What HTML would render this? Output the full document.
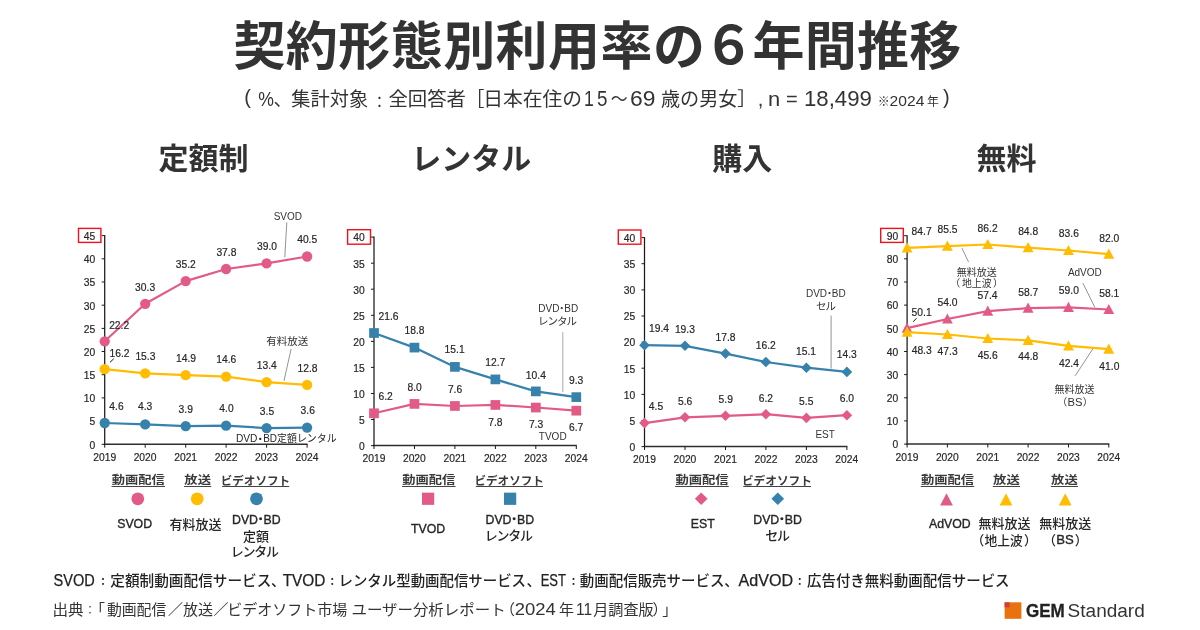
<!DOCTYPE html>
<html lang="ja"><head><meta charset="utf-8"><title>契約形態別利用率の６年間推移</title>
<style>html,body{margin:0;padding:0;background:#fff;}body{width:1200px;height:630px;overflow:hidden;}svg{display:block;font-family:"Liberation Sans", "Noto Sans CJK JP", sans-serif;fill:#262626;}.c text{stroke:#262626;stroke-width:.2px;}.c text.n,.c .n{stroke:none;}</style></head><body>
<svg width="1200" height="630" viewBox="0 0 1200 630">
<rect width="1200" height="630" fill="#fff"/>
<g id="title" fill="#333">
<text><tspan x="233.39" y="64.69" font-size="52" textLength="471.56" lengthAdjust="spacing" font-weight="700" fill="#333">契約形態別利用率の</tspan><tspan x="702.88" y="64.39" font-size="52" textLength="51.73" lengthAdjust="spacingAndGlyphs" font-weight="700" fill="#333">６</tspan><tspan x="752.58" y="64.69" font-size="52" textLength="208.72" lengthAdjust="spacing" font-weight="700" fill="#333">年間推移</tspan></text>
</g>
<g id="subtitle">
<text><tspan x="244.25" y="103.96" font-size="20" fill="#333">(</tspan> <tspan x="258.15" y="106.4" font-size="21" textLength="15.68" lengthAdjust="spacingAndGlyphs" fill="#333">%</tspan><tspan x="273.49" y="106.4" font-size="19" fill="#333">、</tspan><tspan x="291.3" y="106.4" font-size="19" textLength="76.8" lengthAdjust="spacingAndGlyphs" fill="#333">集計対象</tspan><tspan x="372" y="107.39" font-size="15" fill="#333">：</tspan><tspan x="388.5" y="106.4" font-size="19" textLength="77.41" lengthAdjust="spacingAndGlyphs" fill="#333">全回答者</tspan><tspan x="465.62" y="106.4" font-size="19" fill="#333">［</tspan><tspan x="483.2" y="106.4" font-size="19" textLength="98.95" lengthAdjust="spacingAndGlyphs" fill="#333">日本在住の</tspan><tspan x="584.1" y="106.4" font-size="22" textLength="9.82" lengthAdjust="spacingAndGlyphs" fill="#333">1</tspan><tspan x="596.91" y="106.4" font-size="22" textLength="10.45" lengthAdjust="spacingAndGlyphs" fill="#333">5</tspan><tspan x="610.77" y="106.4" font-size="19" textLength="16.96" lengthAdjust="spacingAndGlyphs" fill="#333">～</tspan><tspan x="630.13" y="106.4" font-size="22" textLength="25.4" lengthAdjust="spacingAndGlyphs" fill="#333">69</tspan> <tspan x="660.9" y="106.4" font-size="19" textLength="76.49" lengthAdjust="spacingAndGlyphs" fill="#333">歳の男女</tspan><tspan x="737.28" y="106.4" font-size="19" fill="#333">］</tspan><tspan x="757.69" y="106.4" font-size="20" fill="#333">,</tspan> <tspan x="768.13" y="106.4" font-size="21" textLength="12.2" lengthAdjust="spacingAndGlyphs" fill="#333">n</tspan> <tspan x="786.06" y="106.4" font-size="20" fill="#333">=</tspan> <tspan x="804.01" y="106.4" font-size="22" textLength="67.89" lengthAdjust="spacingAndGlyphs" fill="#333">18,499</tspan> <tspan x="877.8" y="106.4" font-size="12" fill="#333">※</tspan><tspan x="889.62" y="106.4" font-size="15" textLength="34.8" lengthAdjust="spacingAndGlyphs" fill="#333">2024</tspan> <tspan x="927.04" y="106.4" font-size="12" textLength="11.85" lengthAdjust="spacingAndGlyphs" fill="#333">年</tspan> <tspan x="942.99" y="103.96" font-size="20" fill="#333">)</tspan></text>
</g>
<g id="heads" fill="#333">
<text x="158.62" y="169.15" font-size="30" font-weight="700" fill="#333">定額制</text>
<text x="411.27" y="169.38" font-size="30" font-weight="700" fill="#333">レンタル</text>
<text x="712.25" y="169.38" font-size="30" font-weight="700" fill="#333">購入</text>
<text x="976.5" y="169.38" font-size="30" font-weight="700" fill="#333">無料</text>
</g>
<g id="c1" class="c">
<path d="M104.7,235.1 V445.0" fill="none" stroke="#1a1a1a" stroke-width="1.25"/>
<path d="M104.1,444.3 H307.6" fill="none" stroke="#2e2e2e" stroke-width="1.5"/>
<path d="M101.7,444.3 H104.7 M101.7,421.1 H104.7 M101.7,397.9 H104.7 M101.7,374.7 H104.7 M101.7,351.5 H104.7 M101.7,328.4 H104.7 M101.7,305.2 H104.7 M101.7,282.0 H104.7 M101.7,258.8 H104.7 M101.7,235.6 H104.7 M104.7,444.3 V447.7 M145.2,444.3 V447.7 M185.7,444.3 V447.7 M226.1,444.3 V447.7 M266.6,444.3 V447.7 M307.1,444.3 V447.7" fill="none" stroke="#1a1a1a" stroke-width="1"/>
<text x="89.42" y="448.67" font-size="11.5" textLength="5.73" lengthAdjust="spacingAndGlyphs">0</text>
<text x="89.48" y="425.39" font-size="11.5" textLength="5.73" lengthAdjust="spacingAndGlyphs">5</text>
<text x="83.69" y="402.29" font-size="11.5" textLength="11.46" lengthAdjust="spacingAndGlyphs">10</text>
<text x="83.75" y="379.04" font-size="11.5" textLength="11.46" lengthAdjust="spacingAndGlyphs">15</text>
<text x="83.69" y="355.91" font-size="11.5" textLength="11.46" lengthAdjust="spacingAndGlyphs">20</text>
<text x="83.75" y="332.72" font-size="11.5" textLength="11.46" lengthAdjust="spacingAndGlyphs">25</text>
<text x="83.69" y="309.54" font-size="11.5" textLength="11.46" lengthAdjust="spacingAndGlyphs">30</text>
<text x="83.75" y="286.35" font-size="11.5" textLength="11.46" lengthAdjust="spacingAndGlyphs">35</text>
<text x="83.69" y="263.16" font-size="11.5" textLength="11.46" lengthAdjust="spacingAndGlyphs">40</text>
<text x="83.75" y="239.91" font-size="11.5" textLength="11.46" lengthAdjust="spacingAndGlyphs">45</text>
<rect x="78.5" y="228.4" width="22.4" height="14.0" fill="none" stroke="#f0101c" stroke-width="1.4"/>
<text x="93.22" y="461.07" font-size="11.5" textLength="22.92" lengthAdjust="spacingAndGlyphs">2019</text>
<text x="133.64" y="461.07" font-size="11.5" textLength="22.92" lengthAdjust="spacingAndGlyphs">2020</text>
<text x="174.18" y="461.07" font-size="11.5" textLength="22.92" lengthAdjust="spacingAndGlyphs">2021</text>
<text x="214.66" y="461.07" font-size="11.5" textLength="22.92" lengthAdjust="spacingAndGlyphs">2022</text>
<text x="255.11" y="461.07" font-size="11.5" textLength="22.92" lengthAdjust="spacingAndGlyphs">2023</text>
<text x="295.54" y="461.07" font-size="11.5" textLength="22.92" lengthAdjust="spacingAndGlyphs">2024</text>
<polyline points="104.7,423.0 145.2,424.4 185.7,426.2 226.1,425.7 266.6,428.1 307.1,427.6" fill="none" stroke="#3682ad" stroke-width="2.2" stroke-linejoin="round"/>
<circle cx="104.7" cy="423.0" r="5.15" fill="#3682ad"/>
<circle cx="145.2" cy="424.4" r="5.15" fill="#3682ad"/>
<circle cx="185.7" cy="426.2" r="5.15" fill="#3682ad"/>
<circle cx="226.1" cy="425.7" r="5.15" fill="#3682ad"/>
<circle cx="266.6" cy="428.1" r="5.15" fill="#3682ad"/>
<circle cx="307.1" cy="427.6" r="5.15" fill="#3682ad"/>
<polyline points="104.7,369.2 145.2,373.3 185.7,375.2 226.1,376.6 266.6,382.2 307.1,384.9" fill="none" stroke="#ffbc00" stroke-width="2.2" stroke-linejoin="round"/>
<circle cx="104.7" cy="369.2" r="5.15" fill="#ffbc00"/>
<circle cx="145.2" cy="373.3" r="5.15" fill="#ffbc00"/>
<circle cx="185.7" cy="375.2" r="5.15" fill="#ffbc00"/>
<circle cx="226.1" cy="376.6" r="5.15" fill="#ffbc00"/>
<circle cx="266.6" cy="382.2" r="5.15" fill="#ffbc00"/>
<circle cx="307.1" cy="384.9" r="5.15" fill="#ffbc00"/>
<polyline points="104.7,341.3 145.2,303.8 185.7,281.1 226.1,269.0 266.6,263.4 307.1,256.5" fill="none" stroke="#e25a86" stroke-width="2.2" stroke-linejoin="round"/>
<circle cx="104.7" cy="341.3" r="5.15" fill="#e25a86"/>
<circle cx="145.2" cy="303.8" r="5.15" fill="#e25a86"/>
<circle cx="185.7" cy="281.1" r="5.15" fill="#e25a86"/>
<circle cx="226.1" cy="269.0" r="5.15" fill="#e25a86"/>
<circle cx="266.6" cy="263.4" r="5.15" fill="#e25a86"/>
<circle cx="307.1" cy="256.5" r="5.15" fill="#e25a86"/>
<line x1="286.8" y1="222.4" x2="284.8" y2="257.2" stroke="#777" stroke-width="0.8"/>
<line x1="291.1" y1="349.0" x2="284.0" y2="380.8" stroke="#777" stroke-width="0.8"/>
<line x1="113.8" y1="358.7" x2="110.0" y2="362.3" stroke="#1a1a1a" stroke-width="1"/>
<text x="109.15" y="328.93" font-size="11.5" textLength="20.05" lengthAdjust="spacingAndGlyphs">22.2</text>
<text x="135.08" y="290.57" font-size="11.5" textLength="20.05" lengthAdjust="spacingAndGlyphs">30.3</text>
<text x="175.71" y="267.97" font-size="11.5" textLength="20.05" lengthAdjust="spacingAndGlyphs">35.2</text>
<text x="216.38" y="255.97" font-size="11.5" textLength="20.05" lengthAdjust="spacingAndGlyphs">37.8</text>
<text x="256.95" y="250.17" font-size="11.5" textLength="20.05" lengthAdjust="spacingAndGlyphs">39.0</text>
<text x="297.17" y="243.07" font-size="11.5" textLength="20.05" lengthAdjust="spacingAndGlyphs">40.5</text>
<text x="109.51" y="357.07" font-size="11.5" textLength="20.05" lengthAdjust="spacingAndGlyphs">16.2</text>
<text x="135.39" y="359.87" font-size="11.5" textLength="20.05" lengthAdjust="spacingAndGlyphs">15.3</text>
<text x="176.01" y="362.07" font-size="11.5" textLength="20.05" lengthAdjust="spacingAndGlyphs">14.9</text>
<text x="216.19" y="363.37" font-size="11.5" textLength="20.05" lengthAdjust="spacingAndGlyphs">14.6</text>
<text x="256.73" y="369.27" font-size="11.5" textLength="20.05" lengthAdjust="spacingAndGlyphs">13.4</text>
<text x="297.49" y="371.77" font-size="11.5" textLength="20.05" lengthAdjust="spacingAndGlyphs">12.8</text>
<text x="109.33" y="409.87" font-size="11.5" textLength="14.32" lengthAdjust="spacingAndGlyphs">4.6</text>
<text x="138.03" y="410.37" font-size="11.5" textLength="14.32" lengthAdjust="spacingAndGlyphs">4.3</text>
<text x="178.58" y="413.17" font-size="11.5" textLength="14.32" lengthAdjust="spacingAndGlyphs">3.9</text>
<text x="219.3" y="411.87" font-size="11.5" textLength="14.32" lengthAdjust="spacingAndGlyphs">4.0</text>
<text x="259.85" y="414.97" font-size="11.5" textLength="14.32" lengthAdjust="spacingAndGlyphs">3.5</text>
<text x="300.55" y="414.47" font-size="11.5" textLength="14.32" lengthAdjust="spacingAndGlyphs">3.6</text>
<text x="273.65" y="220.24" font-size="10" fill="#333" class="n">SVOD</text>
<text x="266.27" y="344.67" font-size="10.5" fill="#333" class="n">有料放送</text>
<text><tspan x="235.9" y="441.86" font-size="10.3" textLength="21.54" lengthAdjust="spacingAndGlyphs" class="n">DVD</tspan><tspan x="254.95" y="442.5" font-size="10.5" class="n">・</tspan><tspan x="263.23" y="442.47" font-size="10.5" textLength="73.44" lengthAdjust="spacingAndGlyphs" class="n">BD定額レンタル</tspan></text>
</g>
<g id="c2" class="c">
<path d="M374.0,236.6 V446.3" fill="none" stroke="#1a1a1a" stroke-width="1.25"/>
<path d="M373.4,445.6 H576.8" fill="none" stroke="#2e2e2e" stroke-width="1.5"/>
<path d="M371.0,445.6 H374.0 M371.0,419.5 H374.0 M371.0,393.5 H374.0 M371.0,367.4 H374.0 M371.0,341.4 H374.0 M371.0,315.3 H374.0 M371.0,289.2 H374.0 M371.0,263.2 H374.0 M371.0,237.1 H374.0 M374.0,445.6 V449.0 M414.5,445.6 V449.0 M454.9,445.6 V449.0 M495.4,445.6 V449.0 M535.8,445.6 V449.0 M576.3,445.6 V449.0" fill="none" stroke="#1a1a1a" stroke-width="1"/>
<text x="359.02" y="449.97" font-size="11.5" textLength="5.73" lengthAdjust="spacingAndGlyphs">0</text>
<text x="359.08" y="423.81" font-size="11.5" textLength="5.73" lengthAdjust="spacingAndGlyphs">5</text>
<text x="353.29" y="397.84" font-size="11.5" textLength="11.46" lengthAdjust="spacingAndGlyphs">10</text>
<text x="353.35" y="371.72" font-size="11.5" textLength="11.46" lengthAdjust="spacingAndGlyphs">15</text>
<text x="353.29" y="345.72" font-size="11.5" textLength="11.46" lengthAdjust="spacingAndGlyphs">20</text>
<text x="353.35" y="319.66" font-size="11.5" textLength="11.46" lengthAdjust="spacingAndGlyphs">25</text>
<text x="353.29" y="293.59" font-size="11.5" textLength="11.46" lengthAdjust="spacingAndGlyphs">30</text>
<text x="353.35" y="267.53" font-size="11.5" textLength="11.46" lengthAdjust="spacingAndGlyphs">35</text>
<text x="353.29" y="241.47" font-size="11.5" textLength="11.46" lengthAdjust="spacingAndGlyphs">40</text>
<rect x="347.6" y="229.7" width="22.9" height="14.5" fill="none" stroke="#f0101c" stroke-width="1.4"/>
<text x="362.52" y="462.37" font-size="11.5" textLength="22.92" lengthAdjust="spacingAndGlyphs">2019</text>
<text x="402.92" y="462.37" font-size="11.5" textLength="22.92" lengthAdjust="spacingAndGlyphs">2020</text>
<text x="443.44" y="462.37" font-size="11.5" textLength="22.92" lengthAdjust="spacingAndGlyphs">2021</text>
<text x="483.9" y="462.37" font-size="11.5" textLength="22.92" lengthAdjust="spacingAndGlyphs">2022</text>
<text x="524.33" y="462.37" font-size="11.5" textLength="22.92" lengthAdjust="spacingAndGlyphs">2023</text>
<text x="564.74" y="462.37" font-size="11.5" textLength="22.92" lengthAdjust="spacingAndGlyphs">2024</text>
<polyline points="374.0,413.3 414.5,403.9 454.9,406.0 495.4,404.9 535.8,407.5 576.3,410.7" fill="none" stroke="#e25a86" stroke-width="2.2" stroke-linejoin="round"/>
<rect x="369.15" y="408.43" width="9.70" height="9.70" fill="#e25a86"/>
<rect x="409.61" y="399.05" width="9.70" height="9.70" fill="#e25a86"/>
<rect x="450.07" y="401.13" width="9.70" height="9.70" fill="#e25a86"/>
<rect x="490.53" y="400.09" width="9.70" height="9.70" fill="#e25a86"/>
<rect x="530.99" y="402.70" width="9.70" height="9.70" fill="#e25a86"/>
<rect x="571.45" y="405.83" width="9.70" height="9.70" fill="#e25a86"/>
<polyline points="374.0,333.0 414.5,347.6 454.9,366.9 495.4,379.4 535.8,391.4 576.3,397.1" fill="none" stroke="#3682ad" stroke-width="2.2" stroke-linejoin="round"/>
<rect x="369.15" y="328.16" width="9.70" height="9.70" fill="#3682ad"/>
<rect x="409.61" y="342.75" width="9.70" height="9.70" fill="#3682ad"/>
<rect x="450.07" y="362.04" width="9.70" height="9.70" fill="#3682ad"/>
<rect x="490.53" y="374.55" width="9.70" height="9.70" fill="#3682ad"/>
<rect x="530.99" y="386.54" width="9.70" height="9.70" fill="#3682ad"/>
<rect x="571.45" y="392.27" width="9.70" height="9.70" fill="#3682ad"/>
<line x1="562.8" y1="332.1" x2="562.8" y2="392.2" stroke="#aaa" stroke-width="1"/>
<text x="378.43" y="319.97" font-size="11.5" textLength="20.05" lengthAdjust="spacingAndGlyphs">21.6</text>
<text x="404.49" y="333.97" font-size="11.5" textLength="20.05" lengthAdjust="spacingAndGlyphs">18.8</text>
<text x="444.61" y="353.41" font-size="11.5" textLength="20.05" lengthAdjust="spacingAndGlyphs">15.1</text>
<text x="485.21" y="366.03" font-size="11.5" textLength="20.05" lengthAdjust="spacingAndGlyphs">12.7</text>
<text x="525.83" y="378.67" font-size="11.5" textLength="20.05" lengthAdjust="spacingAndGlyphs">10.4</text>
<text x="569.02" y="383.97" font-size="11.5" textLength="14.32" lengthAdjust="spacingAndGlyphs">9.3</text>
<text x="378.52" y="400.17" font-size="11.5" textLength="14.32" lengthAdjust="spacingAndGlyphs">6.2</text>
<text x="407.49" y="391.37" font-size="11.5" textLength="14.32" lengthAdjust="spacingAndGlyphs">8.0</text>
<text x="447.89" y="392.57" font-size="11.5" textLength="14.32" lengthAdjust="spacingAndGlyphs">7.6</text>
<text x="488.19" y="425.57" font-size="11.5" textLength="14.32" lengthAdjust="spacingAndGlyphs">7.8</text>
<text x="528.89" y="427.67" font-size="11.5" textLength="14.32" lengthAdjust="spacingAndGlyphs">7.3</text>
<text x="569.02" y="431.47" font-size="11.5" textLength="14.32" lengthAdjust="spacingAndGlyphs">6.7</text>
<text x="538.85" y="440.14" font-size="10" fill="#333" class="n">TVOD</text>
<text x="538.33" y="311.94" font-size="10" fill="#333" class="n">DVD<tspan dx="-2.6">・</tspan><tspan dx="-2.6">BD</tspan></text>
<text x="537.99" y="325.46" font-size="10.5" letter-spacing="-1" fill="#333" class="n">レンタル</text>
</g>
<g id="c3" class="c">
<path d="M644.5,237.1 V447.3" fill="none" stroke="#1a1a1a" stroke-width="1.25"/>
<path d="M643.9,446.6 H847.4" fill="none" stroke="#2e2e2e" stroke-width="1.5"/>
<path d="M641.5,446.6 H644.5 M641.5,420.5 H644.5 M641.5,394.4 H644.5 M641.5,368.2 H644.5 M641.5,342.1 H644.5 M641.5,316.0 H644.5 M641.5,289.9 H644.5 M641.5,263.7 H644.5 M641.5,237.6 H644.5 M644.5,446.6 V450.0 M685.0,446.6 V450.0 M725.5,446.6 V450.0 M765.9,446.6 V450.0 M806.4,446.6 V450.0 M846.9,446.6 V450.0" fill="none" stroke="#1a1a1a" stroke-width="1"/>
<text x="629.42" y="450.97" font-size="11.5" textLength="5.73" lengthAdjust="spacingAndGlyphs">0</text>
<text x="629.48" y="424.75" font-size="11.5" textLength="5.73" lengthAdjust="spacingAndGlyphs">5</text>
<text x="623.69" y="398.72" font-size="11.5" textLength="11.46" lengthAdjust="spacingAndGlyphs">10</text>
<text x="623.75" y="372.53" font-size="11.5" textLength="11.46" lengthAdjust="spacingAndGlyphs">15</text>
<text x="623.69" y="346.47" font-size="11.5" textLength="11.46" lengthAdjust="spacingAndGlyphs">20</text>
<text x="623.75" y="320.34" font-size="11.5" textLength="11.46" lengthAdjust="spacingAndGlyphs">25</text>
<text x="623.69" y="294.22" font-size="11.5" textLength="11.46" lengthAdjust="spacingAndGlyphs">30</text>
<text x="623.75" y="268.09" font-size="11.5" textLength="11.46" lengthAdjust="spacingAndGlyphs">35</text>
<text x="623.69" y="241.97" font-size="11.5" textLength="11.46" lengthAdjust="spacingAndGlyphs">40</text>
<rect x="618.3" y="230.0" width="22.6" height="14.2" fill="none" stroke="#f0101c" stroke-width="1.4"/>
<text x="633.02" y="463.37" font-size="11.5" textLength="22.92" lengthAdjust="spacingAndGlyphs">2019</text>
<text x="673.44" y="463.37" font-size="11.5" textLength="22.92" lengthAdjust="spacingAndGlyphs">2020</text>
<text x="713.98" y="463.37" font-size="11.5" textLength="22.92" lengthAdjust="spacingAndGlyphs">2021</text>
<text x="754.46" y="463.37" font-size="11.5" textLength="22.92" lengthAdjust="spacingAndGlyphs">2022</text>
<text x="794.91" y="463.37" font-size="11.5" textLength="22.92" lengthAdjust="spacingAndGlyphs">2023</text>
<text x="835.34" y="463.37" font-size="11.5" textLength="22.92" lengthAdjust="spacingAndGlyphs">2024</text>
<polyline points="644.5,423.1 685.0,417.3 725.5,415.8 765.9,414.2 806.4,417.9 846.9,415.2" fill="none" stroke="#e25a86" stroke-width="2.2" stroke-linejoin="round"/>
<polygon points="644.5,417.8 649.8,423.1 644.5,428.4 639.2,423.1" fill="#e25a86"/>
<polygon points="685.0,412.0 690.3,417.3 685.0,422.6 679.7,417.3" fill="#e25a86"/>
<polygon points="725.5,410.5 730.8,415.8 725.5,421.1 720.2,415.8" fill="#e25a86"/>
<polygon points="765.9,408.9 771.2,414.2 765.9,419.5 760.6,414.2" fill="#e25a86"/>
<polygon points="806.4,412.6 811.7,417.9 806.4,423.2 801.1,417.9" fill="#e25a86"/>
<polygon points="846.9,409.9 852.2,415.2 846.9,420.6 841.6,415.2" fill="#e25a86"/>
<polyline points="644.5,345.2 685.0,345.8 725.5,353.6 765.9,362.0 806.4,367.7 846.9,371.9" fill="none" stroke="#3682ad" stroke-width="2.2" stroke-linejoin="round"/>
<polygon points="644.5,339.9 649.8,345.2 644.5,350.5 639.2,345.2" fill="#3682ad"/>
<polygon points="685.0,340.5 690.3,345.8 685.0,351.1 679.7,345.8" fill="#3682ad"/>
<polygon points="725.5,348.3 730.8,353.6 725.5,358.9 720.2,353.6" fill="#3682ad"/>
<polygon points="765.9,356.7 771.2,362.0 765.9,367.3 760.6,362.0" fill="#3682ad"/>
<polygon points="806.4,362.4 811.7,367.7 806.4,373.0 801.1,367.7" fill="#3682ad"/>
<polygon points="846.9,366.6 852.2,371.9 846.9,377.2 841.6,371.9" fill="#3682ad"/>
<line x1="831.1" y1="315.6" x2="831.1" y2="368.6" stroke="#888" stroke-width="0.9"/>
<text x="648.93" y="332.47" font-size="11.5" textLength="20.05" lengthAdjust="spacingAndGlyphs">19.4</text>
<text x="674.89" y="333.17" font-size="11.5" textLength="20.05" lengthAdjust="spacingAndGlyphs">19.3</text>
<text x="715.49" y="340.87" font-size="11.5" textLength="20.05" lengthAdjust="spacingAndGlyphs">17.8</text>
<text x="755.71" y="349.17" font-size="11.5" textLength="20.05" lengthAdjust="spacingAndGlyphs">16.2</text>
<text x="796.01" y="354.71" font-size="11.5" textLength="20.05" lengthAdjust="spacingAndGlyphs">15.1</text>
<text x="836.69" y="358.27" font-size="11.5" textLength="20.05" lengthAdjust="spacingAndGlyphs">14.3</text>
<text x="648.83" y="409.81" font-size="11.5" textLength="14.32" lengthAdjust="spacingAndGlyphs">4.5</text>
<text x="677.95" y="404.77" font-size="11.5" textLength="14.32" lengthAdjust="spacingAndGlyphs">5.6</text>
<text x="718.58" y="402.77" font-size="11.5" textLength="14.32" lengthAdjust="spacingAndGlyphs">5.9</text>
<text x="758.72" y="401.77" font-size="11.5" textLength="14.32" lengthAdjust="spacingAndGlyphs">6.2</text>
<text x="799.05" y="405.47" font-size="11.5" textLength="14.32" lengthAdjust="spacingAndGlyphs">5.5</text>
<text x="839.66" y="401.77" font-size="11.5" textLength="14.32" lengthAdjust="spacingAndGlyphs">6.0</text>
<text x="815.46" y="437.54" font-size="10" fill="#333" class="n">EST</text>
<text x="805.93" y="297.44" font-size="10" fill="#333" class="n">DVD<tspan dx="-2.6">・</tspan><tspan dx="-2.6">BD</tspan></text>
<text x="815.94" y="310.17" font-size="10.5" letter-spacing="-1" fill="#333" class="n">セル</text>
</g>
<g id="c4" class="c" transform="translate(0,0.6)">
<path d="M907.1,234.6 V444.2" fill="none" stroke="#1a1a1a" stroke-width="1.25"/>
<path d="M906.5,443.5 H1109.3" fill="none" stroke="#2e2e2e" stroke-width="1.5"/>
<path d="M904.1,443.5 H907.1 M904.1,420.3 H907.1 M904.1,397.2 H907.1 M904.1,374.0 H907.1 M904.1,350.9 H907.1 M904.1,327.7 H907.1 M904.1,304.5 H907.1 M904.1,281.4 H907.1 M904.1,258.2 H907.1 M904.1,235.1 H907.1 M907.1,443.5 V446.9 M947.4,443.5 V446.9 M987.8,443.5 V446.9 M1028.1,443.5 V446.9 M1068.5,443.5 V446.9 M1108.8,443.5 V446.9" fill="none" stroke="#1a1a1a" stroke-width="1"/>
<text x="892.52" y="447.87" font-size="11.5" textLength="5.73" lengthAdjust="spacingAndGlyphs">0</text>
<text x="886.79" y="424.71" font-size="11.5" textLength="11.46" lengthAdjust="spacingAndGlyphs">10</text>
<text x="886.79" y="401.55" font-size="11.5" textLength="11.46" lengthAdjust="spacingAndGlyphs">20</text>
<text x="886.79" y="378.39" font-size="11.5" textLength="11.46" lengthAdjust="spacingAndGlyphs">30</text>
<text x="886.79" y="355.22" font-size="11.5" textLength="11.46" lengthAdjust="spacingAndGlyphs">40</text>
<text x="886.79" y="332.06" font-size="11.5" textLength="11.46" lengthAdjust="spacingAndGlyphs">50</text>
<text x="886.79" y="308.9" font-size="11.5" textLength="11.46" lengthAdjust="spacingAndGlyphs">60</text>
<text x="886.79" y="285.74" font-size="11.5" textLength="11.46" lengthAdjust="spacingAndGlyphs">70</text>
<text x="886.79" y="262.58" font-size="11.5" textLength="11.46" lengthAdjust="spacingAndGlyphs">80</text>
<text x="886.79" y="239.42" font-size="11.5" textLength="11.46" lengthAdjust="spacingAndGlyphs">90</text>
<rect x="880.7" y="227.8" width="22.6" height="14.0" fill="none" stroke="#f0101c" stroke-width="1.4"/>
<text x="895.62" y="460.27" font-size="11.5" textLength="22.92" lengthAdjust="spacingAndGlyphs">2019</text>
<text x="935.9" y="460.27" font-size="11.5" textLength="22.92" lengthAdjust="spacingAndGlyphs">2020</text>
<text x="976.3" y="460.27" font-size="11.5" textLength="22.92" lengthAdjust="spacingAndGlyphs">2021</text>
<text x="1016.64" y="460.27" font-size="11.5" textLength="22.92" lengthAdjust="spacingAndGlyphs">2022</text>
<text x="1056.95" y="460.27" font-size="11.5" textLength="22.92" lengthAdjust="spacingAndGlyphs">2023</text>
<text x="1097.24" y="460.27" font-size="11.5" textLength="22.92" lengthAdjust="spacingAndGlyphs">2024</text>
<polyline points="907.1,327.5 947.4,318.4 987.8,310.6 1028.1,307.5 1068.5,306.8 1108.8,308.9" fill="none" stroke="#e25a86" stroke-width="2.2" stroke-linejoin="round"/>
<polygon points="907.1,321.9 912.5,332.1 901.7,332.1" fill="#e25a86"/>
<polygon points="947.4,312.8 952.8,323.0 942.0,323.0" fill="#e25a86"/>
<polygon points="987.8,305.0 993.2,315.2 982.4,315.2" fill="#e25a86"/>
<polygon points="1028.1,301.9 1033.5,312.1 1022.7,312.1" fill="#e25a86"/>
<polygon points="1068.5,301.2 1073.9,311.4 1063.1,311.4" fill="#e25a86"/>
<polygon points="1108.8,303.3 1114.2,313.5 1103.4,313.5" fill="#e25a86"/>
<polyline points="907.1,331.6 947.4,333.9 987.8,337.9 1028.1,339.7 1068.5,345.3 1108.8,348.5" fill="none" stroke="#ffbc00" stroke-width="2.2" stroke-linejoin="round"/>
<polygon points="907.1,326.0 912.5,336.2 901.7,336.2" fill="#ffbc00"/>
<polygon points="947.4,328.3 952.8,338.5 942.0,338.5" fill="#ffbc00"/>
<polygon points="987.8,332.3 993.2,342.5 982.4,342.5" fill="#ffbc00"/>
<polygon points="1028.1,334.1 1033.5,344.3 1022.7,344.3" fill="#ffbc00"/>
<polygon points="1068.5,339.7 1073.9,349.9 1063.1,349.9" fill="#ffbc00"/>
<polygon points="1108.8,342.9 1114.2,353.1 1103.4,353.1" fill="#ffbc00"/>
<polyline points="907.1,247.3 947.4,245.5 987.8,243.9 1028.1,247.1 1068.5,249.9 1108.8,253.6" fill="none" stroke="#ffbc00" stroke-width="2.2" stroke-linejoin="round"/>
<polygon points="907.1,241.7 912.5,251.9 901.7,251.9" fill="#ffbc00"/>
<polygon points="947.4,239.9 952.8,250.1 942.0,250.1" fill="#ffbc00"/>
<polygon points="987.8,238.3 993.2,248.5 982.4,248.5" fill="#ffbc00"/>
<polygon points="1028.1,241.5 1033.5,251.7 1022.7,251.7" fill="#ffbc00"/>
<polygon points="1068.5,244.3 1073.9,254.5 1063.1,254.5" fill="#ffbc00"/>
<polygon points="1108.8,248.0 1114.2,258.2 1103.4,258.2" fill="#ffbc00"/>
<line x1="961.9" y1="247.5" x2="968.6" y2="261.5" stroke="#777" stroke-width="0.8"/>
<line x1="1082.9" y1="282.5" x2="1094.8" y2="306.7" stroke="#777" stroke-width="0.8"/>
<line x1="1092.8" y1="348.3" x2="1075.2" y2="375.2" stroke="#777" stroke-width="0.8"/>
<line x1="916.5" y1="317.6" x2="913.2" y2="321.2" stroke="#1a1a1a" stroke-width="1"/>
<text x="911.58" y="234.67" font-size="11.5" textLength="20.05" lengthAdjust="spacingAndGlyphs">84.7</text>
<text x="937.45" y="232.37" font-size="11.5" textLength="20.05" lengthAdjust="spacingAndGlyphs">85.5</text>
<text x="977.58" y="231.07" font-size="11.5" textLength="20.05" lengthAdjust="spacingAndGlyphs">86.2</text>
<text x="1018.15" y="234.67" font-size="11.5" textLength="20.05" lengthAdjust="spacingAndGlyphs">84.8</text>
<text x="1058.85" y="236.67" font-size="11.5" textLength="20.05" lengthAdjust="spacingAndGlyphs">83.6</text>
<text x="1099.23" y="240.97" font-size="11.5" textLength="20.05" lengthAdjust="spacingAndGlyphs">82.0</text>
<text x="911.61" y="315.47" font-size="11.5" textLength="20.05" lengthAdjust="spacingAndGlyphs">50.1</text>
<text x="937.45" y="305.77" font-size="11.5" textLength="20.05" lengthAdjust="spacingAndGlyphs">54.0</text>
<text x="977.53" y="298.11" font-size="11.5" textLength="20.05" lengthAdjust="spacingAndGlyphs">57.4</text>
<text x="1018.21" y="295.07" font-size="11.5" textLength="20.05" lengthAdjust="spacingAndGlyphs">58.7</text>
<text x="1058.85" y="293.87" font-size="11.5" textLength="20.05" lengthAdjust="spacingAndGlyphs">59.0</text>
<text x="1099.31" y="296.37" font-size="11.5" textLength="20.05" lengthAdjust="spacingAndGlyphs">58.1</text>
<text x="911.67" y="353.07" font-size="11.5" textLength="20.05" lengthAdjust="spacingAndGlyphs">48.3</text>
<text x="937.57" y="354.47" font-size="11.5" textLength="20.05" lengthAdjust="spacingAndGlyphs">47.3</text>
<text x="977.67" y="358.27" font-size="11.5" textLength="20.05" lengthAdjust="spacingAndGlyphs">45.6</text>
<text x="1018.27" y="359.87" font-size="11.5" textLength="20.05" lengthAdjust="spacingAndGlyphs">44.8</text>
<text x="1058.91" y="366.03" font-size="11.5" textLength="20.05" lengthAdjust="spacingAndGlyphs">42.4</text>
<text x="1099.34" y="369.27" font-size="11.5" textLength="20.05" lengthAdjust="spacingAndGlyphs">41.0</text>
<text x="956.67" y="275.41" font-size="10" fill="#333" class="n">無料放送</text>
<text><tspan x="950.35" y="286.78" font-size="10" fill="#333" class="n">（</tspan><tspan x="961.89" y="286.81" font-size="10" textLength="29.82" lengthAdjust="spacingAndGlyphs" fill="#333" class="n">地上波</tspan><tspan x="993.05" y="286.78" font-size="10" fill="#333" class="n">）</tspan></text>
<text x="1067.89" y="275.16" font-size="10" fill="#333" class="n">AdVOD</text>
<text x="1054.47" y="392.21" font-size="10" fill="#333" class="n">無料放送</text>
<text><tspan x="1057.35" y="405.38" font-size="10" fill="#333" class="n">（</tspan><tspan x="1067.49" y="405.04" font-size="10" textLength="14.98" lengthAdjust="spacingAndGlyphs" fill="#333" class="n">BS</tspan><tspan x="1082.85" y="405.38" font-size="10" fill="#333" class="n">）</tspan></text>
</g>
<g id="legend">
<text x="111.65" y="484.31" font-size="11.8" textLength="53.19" lengthAdjust="spacingAndGlyphs" font-weight="700" fill="#3a3a3a">動画配信</text>
<line x1="111.5" y1="486.5" x2="165.0" y2="486.5" stroke="#444" stroke-width="1"/>
<text x="184.36" y="484.34" font-size="11.8" textLength="26.66" lengthAdjust="spacingAndGlyphs" font-weight="700" fill="#3a3a3a">放送</text>
<line x1="184.0" y1="486.5" x2="211.2" y2="486.5" stroke="#444" stroke-width="1"/>
<text x="220.66" y="484.56" font-size="11.8" textLength="69.55" lengthAdjust="spacingAndGlyphs" font-weight="700" fill="#3a3a3a">ビデオソフト</text>
<line x1="222.0" y1="486.5" x2="289.2" y2="486.5" stroke="#444" stroke-width="1"/>
<circle cx="137.8" cy="498.8" r="6.39" fill="#e25a86"/>
<circle cx="197.2" cy="498.8" r="6.39" fill="#ffbc00"/>
<circle cx="256.5" cy="498.8" r="6.39" fill="#3682ad"/>
<text x="117.21" y="527.75" font-size="12.3" stroke="#262626" stroke-width="0.35">SVOD</text>
<text x="169.6" y="528.94" font-size="13" font-weight="500">有料放送</text>
<text x="232.01" y="524.25" font-size="12.3" stroke="#262626" stroke-width="0.35">DVD<tspan dx="-3.4">・</tspan><tspan dx="-3.4">BD</tspan></text>
<text x="242.91" y="540.62" font-size="13" font-weight="500">定額</text>
<text x="230.71" y="555.8" font-size="13" font-weight="500" letter-spacing="-1.2">レンタル</text>
<text x="402.15" y="484.31" font-size="11.8" textLength="53.19" lengthAdjust="spacingAndGlyphs" font-weight="700" fill="#3a3a3a">動画配信</text>
<line x1="402.0" y1="486.5" x2="455.5" y2="486.5" stroke="#444" stroke-width="1"/>
<text x="474.41" y="484.56" font-size="11.8" textLength="69.55" lengthAdjust="spacingAndGlyphs" font-weight="700" fill="#3a3a3a">ビデオソフト</text>
<line x1="475.8" y1="486.5" x2="543.0" y2="486.5" stroke="#444" stroke-width="1"/>
<rect x="421.99" y="492.64" width="12.22" height="12.22" fill="#e25a86"/>
<rect x="503.99" y="492.64" width="12.22" height="12.22" fill="#3682ad"/>
<text x="410.98" y="532.97" font-size="12.3" stroke="#262626" stroke-width="0.35">TVOD</text>
<text x="485.51" y="524.25" font-size="12.3" stroke="#262626" stroke-width="0.35">DVD<tspan dx="-3.4">・</tspan><tspan dx="-3.4">BD</tspan></text>
<text x="484.71" y="540.2" font-size="13" font-weight="500" letter-spacing="-1.2">レンタル</text>
<text x="675.4" y="484.31" font-size="11.8" textLength="53.19" lengthAdjust="spacingAndGlyphs" font-weight="700" fill="#3a3a3a">動画配信</text>
<line x1="675.2" y1="486.5" x2="728.8" y2="486.5" stroke="#444" stroke-width="1"/>
<text x="741.89" y="484.56" font-size="11.8" textLength="70.08" lengthAdjust="spacingAndGlyphs" font-weight="700" fill="#3a3a3a">ビデオソフト</text>
<line x1="743.2" y1="486.5" x2="811.0" y2="486.5" stroke="#444" stroke-width="1"/>
<polygon points="701.2,492.4 707.6,498.8 701.2,505.1 694.9,498.8" fill="#e25a86"/>
<polygon points="777.8,492.4 784.1,498.8 777.8,505.1 771.4,498.8" fill="#3682ad"/>
<text x="690.77" y="527.5" font-size="12.3" stroke="#262626" stroke-width="0.35">EST</text>
<text x="753.26" y="524.25" font-size="12.3" stroke="#262626" stroke-width="0.35">DVD<tspan dx="-3.4">・</tspan><tspan dx="-3.4">BD</tspan></text>
<text x="765.26" y="540.08" font-size="13" font-weight="500" letter-spacing="-1.2">セル</text>
<text x="920.9" y="484.31" font-size="11.8" textLength="53.19" lengthAdjust="spacingAndGlyphs" font-weight="700" fill="#3a3a3a">動画配信</text>
<line x1="920.8" y1="486.5" x2="974.2" y2="486.5" stroke="#444" stroke-width="1"/>
<text x="993.11" y="484.34" font-size="11.8" textLength="26.66" lengthAdjust="spacingAndGlyphs" font-weight="700" fill="#3a3a3a">放送</text>
<line x1="992.8" y1="486.5" x2="1020.0" y2="486.5" stroke="#444" stroke-width="1"/>
<text x="1051.11" y="484.34" font-size="11.8" textLength="26.66" lengthAdjust="spacingAndGlyphs" font-weight="700" fill="#3a3a3a">放送</text>
<line x1="1050.8" y1="486.5" x2="1078.0" y2="486.5" stroke="#444" stroke-width="1"/>
<polygon points="946.5,493.3 952.9,505.4 940.1,505.4" fill="#e25a86"/>
<polygon points="1006.0,493.3 1012.4,505.4 999.6,505.4" fill="#ffbc00"/>
<polygon points="1065.2,493.3 1071.6,505.4 1058.9,505.4" fill="#ffbc00"/>
<text x="929.04" y="527.66" font-size="12.3" stroke="#262626" stroke-width="0.35">AdVOD</text>
<text x="978.57" y="528.44" font-size="13" font-weight="500">無料放送</text>
<text><tspan x="971.27" y="544.91" font-size="13" font-weight="500">（</tspan><tspan x="984.59" y="544.94" font-size="13" textLength="38.17" lengthAdjust="spacingAndGlyphs" font-weight="500">地上波</tspan><tspan x="1024.03" y="544.91" font-size="13" font-weight="500">）</tspan></text>
<text x="1039.37" y="528.44" font-size="13" font-weight="500">無料放送</text>
<text><tspan x="1042.97" y="544.91" font-size="13" font-weight="500">（</tspan><tspan x="1056.23" y="544.25" font-size="12.3" textLength="17.52" lengthAdjust="spacingAndGlyphs" stroke="#262626" stroke-width="0.35">BS</tspan><tspan x="1074.83" y="544.91" font-size="13" font-weight="500">）</tspan></text>
</g>
<g id="footer">
<text><tspan x="53.55" y="586.2" font-size="16.3" textLength="41.26" lengthAdjust="spacingAndGlyphs" fill="#222" stroke="#222" stroke-width="0.25">SVOD</tspan><tspan x="97.25" y="585.78" font-size="11.5" font-weight="500" fill="#222">：</tspan><tspan x="110.32" y="586.2" font-size="14.5" textLength="161" lengthAdjust="spacingAndGlyphs" font-weight="500" fill="#222">定額制動画配信サービス</tspan><tspan x="271.12" y="586.2" font-size="14.5" font-weight="500" fill="#222">、</tspan><tspan x="282.66" y="586.2" font-size="16.3" textLength="42.77" lengthAdjust="spacingAndGlyphs" fill="#222" stroke="#222" stroke-width="0.25">TVOD</tspan><tspan x="326.45" y="585.78" font-size="11.5" font-weight="500" fill="#222">：</tspan><tspan x="338.52" y="586.2" font-size="14.5" textLength="187.49" lengthAdjust="spacingAndGlyphs" font-weight="500" fill="#222">レンタル型動画配信サービス</tspan><tspan x="526.42" y="586.2" font-size="14.5" font-weight="500" fill="#222">、</tspan><tspan x="540.69" y="586.2" font-size="16.3" textLength="25.24" lengthAdjust="spacingAndGlyphs" fill="#222" stroke="#222" stroke-width="0.25">EST</tspan><tspan x="567.85" y="585.78" font-size="11.5" font-weight="500" fill="#222">：</tspan><tspan x="579.8" y="586.2" font-size="14.5" textLength="144.61" lengthAdjust="spacingAndGlyphs" font-weight="500" fill="#222">動画配信販売サービス</tspan><tspan x="724.23" y="586.2" font-size="14.5" font-weight="500" fill="#222">、</tspan><tspan x="738.6" y="586.2" font-size="16.3" textLength="54.56" lengthAdjust="spacingAndGlyphs" fill="#222" stroke="#222" stroke-width="0.25">AdVOD</tspan><tspan x="794.05" y="585.78" font-size="11.5" font-weight="500" fill="#222">：</tspan><tspan x="806.93" y="586.2" font-size="14.5" textLength="202.68" lengthAdjust="spacingAndGlyphs" font-weight="500" fill="#222">広告付き無料動画配信サービス</tspan></text>
<text><tspan x="52.45" y="615.3" font-size="15" textLength="31.14" lengthAdjust="spacingAndGlyphs" fill="#333">出典</tspan><tspan x="84.25" y="614.11" font-size="11.5" font-weight="350" fill="#333" class="n">：</tspan><tspan x="89.97" y="615.3" font-size="15" fill="#333">「</tspan><tspan x="106.88" y="615.3" font-size="15" textLength="59.48" lengthAdjust="spacingAndGlyphs" fill="#333">動画配信</tspan><tspan x="167.9" y="615.3" font-size="15" fill="#333">／</tspan><tspan x="182.92" y="615.3" font-size="15" textLength="30.08" lengthAdjust="spacingAndGlyphs" fill="#333">放送</tspan><tspan x="213.5" y="615.3" font-size="15" fill="#333">／</tspan><tspan x="227.25" y="615.3" font-size="15" textLength="120.01" lengthAdjust="spacingAndGlyphs" fill="#333">ビデオソフト市場</tspan> <tspan x="351.44" y="615.3" font-size="15" textLength="154.17" lengthAdjust="spacingAndGlyphs" fill="#333">ユーザー分析レポート</tspan><tspan x="499.96" y="615.3" font-size="15" fill="#333">（</tspan><tspan x="514.84" y="615.3" font-size="17" textLength="41.02" lengthAdjust="spacingAndGlyphs" fill="#333">2024</tspan> <tspan x="559.01" y="615.3" font-size="15" textLength="14.97" lengthAdjust="spacingAndGlyphs" fill="#333">年</tspan><tspan x="576.03" y="615.3" font-size="17" textLength="16.1" lengthAdjust="spacingAndGlyphs" fill="#333">11</tspan><tspan x="593.22" y="615.3" font-size="15" textLength="60.46" lengthAdjust="spacingAndGlyphs" fill="#333">月調査版</tspan><tspan x="652.44" y="615.3" font-size="15" fill="#333">）</tspan><tspan x="662.23" y="615.3" font-size="15" fill="#333">」</tspan></text>
<rect x="1004.6" y="602.3" width="16.8" height="16.5" fill="#e8720f"/>
<rect x="1004.6" y="602.3" width="5" height="5" fill="#d63a3a"/>
<text><tspan x="1025.97" y="616.65" font-size="17.6" textLength="38.81" lengthAdjust="spacingAndGlyphs" font-weight="700" fill="#222" stroke="#222" stroke-width="0.3">GEM</tspan> <tspan x="1067.61" y="616.92" font-size="17.6" textLength="77.16" lengthAdjust="spacingAndGlyphs" fill="#333">Standard</tspan></text>
</g>
</svg></body></html>
